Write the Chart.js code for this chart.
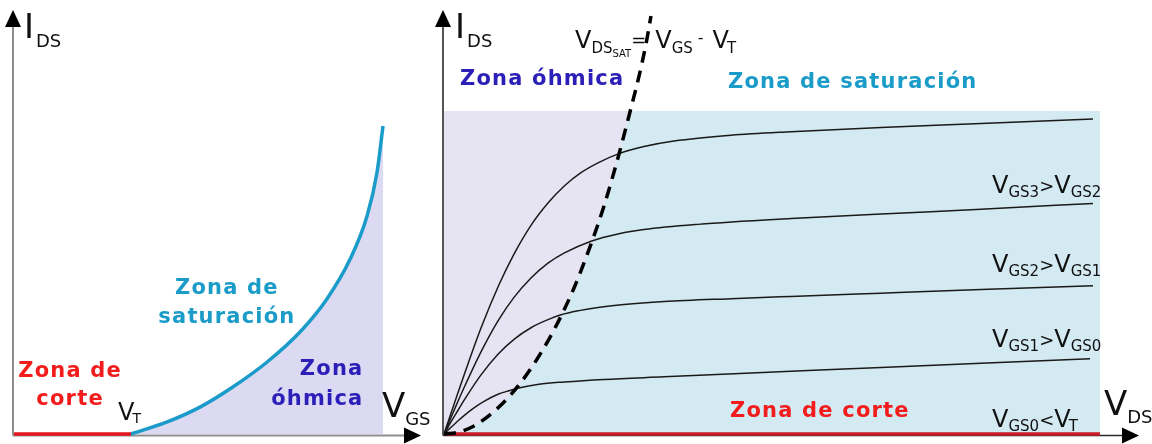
<!DOCTYPE html>
<html>
<head>
<meta charset="utf-8">
<script src="https://cdn.jsdelivr.net/npm/chart.js@4.4.1/dist/chart.umd.min.js"></script>
<style>
  body { margin: 0; background: #fff; }
  #wrap { position: relative; width: 1152px; height: 444px; }
  #wrap canvas { position: absolute; left: 0; top: 0; }
</style>
</head>
<body>
<div id="wrap">
  <canvas id="transfer" width="1152" height="444"></canvas>
  <canvas id="output" width="1152" height="444"></canvas>
</div>
<script>
/* Transfer curve: I_DS vs V_GS */
var vgs = [3.17, 4.15, 5.04, 5.93, 6.86, 7.75, 8.48, 9.11, 9.57, 9.84, 10];
var idsTransfer = [0, 0.39, 0.87, 1.52, 2.33, 3.30, 4.37, 5.66, 7.06, 8.48, 9.97];
var vT = 3.17;

/* Output curves: I_DS vs V_DS, one per V_GS step */
var vds0 = [0, 10];
var ids0 = [0, 0];
var vds1 = [0, 0.076, 0.183, 0.305, 0.457, 0.610, 0.823, 0.991, 1.174, 1.448, 1.829, 2.439, 3.354, 5.290, 6.662, 8.186, 9.848];
var ids1 = [0, 0.15, 0.35, 0.57, 0.81, 1.01, 1.23, 1.34, 1.44, 1.54, 1.61, 1.69, 1.77, 1.94, 2.06, 2.19, 2.33];
var vds2 = [0, 0.076, 0.183, 0.305, 0.564, 0.823, 1.067, 1.326, 1.585, 1.784, 2.058, 2.348, 2.744, 3.354, 4.375, 5.290, 6.662, 8.186, 9.893];
var ids2 = [0, 0.27, 0.63, 1.04, 1.83, 2.47, 2.93, 3.29, 3.54, 3.69, 3.82, 3.92, 4.01, 4.10, 4.19, 4.26, 4.36, 4.47, 4.59];
var vds3 = [0, 0.076, 0.183, 0.305, 0.564, 0.823, 1.067, 1.326, 1.585, 1.829, 2.241, 2.668, 3.049, 3.872, 5.290, 6.662, 8.186, 9.893];
var ids3 = [0, 0.36, 0.87, 1.43, 2.54, 3.50, 4.23, 4.83, 5.29, 5.60, 5.97, 6.20, 6.33, 6.49, 6.67, 6.81, 6.96, 7.14];
var vds4 = [0, 0.076, 0.183, 0.305, 0.564, 0.838, 1.067, 1.326, 1.585, 1.829, 2.088, 2.363, 2.668, 3.049, 3.506, 4.375, 5.290, 6.662, 8.186, 9.893];
var ids4 = [0, 0.46, 1.10, 1.82, 3.28, 4.62, 5.57, 6.46, 7.15, 7.67, 8.09, 8.41, 8.68, 8.90, 9.07, 9.25, 9.36, 9.49, 9.61, 9.75];

/* Saturation boundary V_DS,sat = V_GS - V_T */
var vdsSat = [0, 0.229, 0.457, 0.686, 0.915, 1.143, 1.372, 1.601, 1.784, 1.982, 2.241, 2.439, 2.668, 2.835, 2.973, 3.079, 3.155];
var idsSat = [0, 0.06, 0.25, 0.57, 0.99, 1.52, 2.17, 2.94, 3.65, 4.52, 5.88, 7.06, 8.67, 9.97, 11.08, 12.07, 12.94];

var BOLD = 'bold {s}px "DejaVu Sans", sans-serif';
var NORMAL = '{s}px "DejaVu Sans", sans-serif';

function pts(xs, ys) {
  return xs.map(function (x, i) { return { x: x, y: ys[i] }; });
}

// text with subscripts: each part is [text, size, dy, dx]
function richText(ctx, x, y, parts, align, bold) {
  var tpl = bold ? BOLD : NORMAL;
  ctx.letterSpacing = bold ? '1.2px' : '0px';
  var total = 0;
  parts.forEach(function (p) {
    ctx.font = tpl.replace('{s}', p[1]);
    total += (p[3] || 0) + ctx.measureText(p[0]).width;
  });
  var cx = align === 'center' ? x - total / 2 : align === 'right' ? x - total : x;
  parts.forEach(function (p) {
    ctx.font = tpl.replace('{s}', p[1]);
    cx += p[3] || 0;
    ctx.fillText(p[0], cx, y + (p[2] || 0));
    cx += ctx.measureText(p[0]).width;
  });
  ctx.letterSpacing = '0px';
}

function arrow(ctx, x1, y1, x2, y2, lineColor, lineWidth) {
  var ang = Math.atan2(y2 - y1, x2 - x1);
  var len = 17, half = 8;
  var bx = x2 - len * Math.cos(ang), by = y2 - len * Math.sin(ang);
  ctx.strokeStyle = lineColor;
  ctx.lineWidth = lineWidth;
  ctx.beginPath();
  ctx.moveTo(x1, y1);
  ctx.lineTo(bx, by);
  ctx.stroke();
  ctx.fillStyle = '#000';
  ctx.beginPath();
  ctx.moveTo(x2, y2);
  ctx.lineTo(bx - half * Math.sin(ang), by + half * Math.cos(ang));
  ctx.lineTo(bx + half * Math.sin(ang), by - half * Math.cos(ang));
  ctx.closePath();
  ctx.fill();
}

// background box + arrowed axes, drawn under the datasets
var axesPlugin = {
  id: 'axes',
  beforeDatasetsDraw: function (chart, args, opts) {
    var ctx = chart.ctx, a = chart.chartArea;
    ctx.save();
    if (opts.background) {
      ctx.fillStyle = opts.background;
      ctx.fillRect(a.left, a.top, a.right - a.left, a.bottom - a.top);
    }
    var ox = a.left - 1, oy = a.bottom + 1.5;
    arrow(ctx, ox, oy, ox, 10, opts.color, opts.width);
    arrow(ctx, ox, oy, opts.xEnd, oy, opts.color, opts.width);
    ctx.restore();
  }
};

var labelsPlugin = {
  id: 'labels',
  afterDraw: function (chart, args, opts) {
    var ctx = chart.ctx, xs = chart.scales.x, ys = chart.scales.y;
    ctx.save();
    ctx.textBaseline = 'alphabetic';
    opts.items.forEach(function (l) {
      ctx.fillStyle = l.color;
      richText(ctx, xs.getPixelForValue(l.x), ys.getPixelForValue(l.y), l.parts, l.align || 'left', l.bold);
    });
    ctx.restore();
  }
};

var RED = '#f21c1c', CYAN = '#1b9cc8', BLUE = '#2b1fb8', INK = '#111';

var transferLabels = [
  { x: 0.27, y: 12.82, color: INK, parts: [['I', 34], ['DS', 18, 9, 2]] },
  { x: 9.97, y: 0.55, color: INK, parts: [['V', 34], ['GS', 18, 8]] },
  { x: 2.82, y: 0.45, color: INK, parts: [['V', 24], ['T', 14, 3, -2]] },
  { x: 1.52, y: 1.84, color: RED, bold: true, align: 'center', parts: [['Zona de', 21]] },
  { x: 1.52, y: 0.94, color: RED, bold: true, align: 'center', parts: [['corte', 21]] },
  { x: 5.77, y: 4.53, color: CYAN, bold: true, align: 'center', parts: [['Zona de', 21]] },
  { x: 5.77, y: 3.59, color: CYAN, bold: true, align: 'center', parts: [['saturación', 21]] },
  { x: 9.47, y: 1.91, color: BLUE, bold: true, align: 'right', parts: [['Zona', 21]] },
  { x: 9.47, y: 0.94, color: BLUE, bold: true, align: 'right', parts: [['óhmica', 21]] }
];

var outputLabels = [
  { x: 0.168, y: 12.26, color: INK, parts: [['I', 34], ['DS', 18, 9, 2]] },
  { x: 1.997, y: 11.95, color: INK, parts: [['V', 24], ['DS', 15, 5], ['SAT', 10, 9], ['=', 18, -2], ['V', 24, 0, 9], ['GS', 15, 5], ['-', 16, -5, 5], ['V', 24, 0, 9], ['T', 15, 5, -2]] },
  { x: 0.244, y: 10.8, color: BLUE, bold: true, parts: [['Zona óhmica', 21]] },
  { x: 4.329, y: 10.7, color: CYAN, bold: true, parts: [['Zona de saturación', 21]] },
  { x: 8.354, y: 7.46, color: INK, parts: [['V', 24], ['GS3', 15, 4], ['>', 18, -1], ['V', 24], ['GS2', 15, 4]] },
  { x: 8.354, y: 5.02, color: INK, parts: [['V', 24], ['GS2', 15, 4], ['>', 18, -1], ['V', 24], ['GS1', 15, 4]] },
  { x: 8.354, y: 2.69, color: INK, parts: [['V', 24], ['GS1', 15, 4], ['>', 18, -1], ['V', 24], ['GS0', 15, 4]] },
  { x: 8.354, y: 0.22, color: INK, parts: [['V', 24], ['GS0', 15, 4], ['<', 18, -1], ['V', 24], ['T', 15, 4, -2]] },
  { x: 4.36, y: 0.53, color: RED, bold: true, parts: [['Zona de corte', 21]] },
  { x: 10.06, y: 0.59, color: INK, parts: [['V', 34], ['DS', 18, 8]] }
];

function baseOptions(padding, axes, labels) {
  return {
    responsive: false,
    animation: false,
    events: [],
    layout: { padding: padding },
    elements: { point: { radius: 0 } },
    scales: {
      x: { type: 'linear', min: 0, max: 10, display: false },
      y: { type: 'linear', min: 0, max: 10, display: false }
    },
    plugins: {
      legend: { display: false },
      tooltip: { enabled: false },
      axes: axes,
      labels: { items: labels }
    }
  };
}

new Chart(document.getElementById('transfer'), {
  type: 'line',
  data: {
    datasets: [
      { data: pts([0, vT], [0, 0]), borderColor: '#e3161c', borderWidth: 3.5, clip: false },
      {
        data: pts(vgs, idsTransfer), borderColor: '#1a9bc9', borderWidth: 3.5,
        cubicInterpolationMode: 'monotone', fill: 'origin', backgroundColor: '#dcdaf2', clip: false
      }
    ]
  },
  options: baseOptions({ left: 14, right: 769, top: 125, bottom: 10 },
    { color: '#8d8d8d', width: 2, xEnd: 421 }, transferLabels),
  plugins: [axesPlugin, labelsPlugin]
});

var curve = { borderColor: '#1a1a1a', borderWidth: 1.5, cubicInterpolationMode: 'monotone' };

new Chart(document.getElementById('output'), {
  type: 'line',
  data: {
    datasets: [
      {
        data: pts(vdsSat, idsSat), borderColor: '#000', borderWidth: 3.5,
        borderDash: [12, 8], cubicInterpolationMode: 'monotone', clip: false
      },
      { data: pts(vds0, ids0), borderColor: '#c81d26', borderWidth: 3.5, clip: false },
      Object.assign({ data: pts(vds1, ids1) }, curve),
      Object.assign({ data: pts(vds2, ids2) }, curve),
      Object.assign({ data: pts(vds3, ids3) }, curve),
      Object.assign({ data: pts(vds4, ids4) }, curve),
      {
        data: pts(vdsSat, idsSat), borderWidth: 0, cubicInterpolationMode: 'monotone',
        fill: 'end', backgroundColor: '#e6e4f3'
      }
    ]
  },
  options: baseOptions({ left: 444, right: 52, top: 111, bottom: 10 },
    { color: '#2a2a2a', width: 1.6, xEnd: 1139, background: '#d3eaf2' }, outputLabels),
  plugins: [axesPlugin, labelsPlugin]
});
</script>
</body>
</html>
